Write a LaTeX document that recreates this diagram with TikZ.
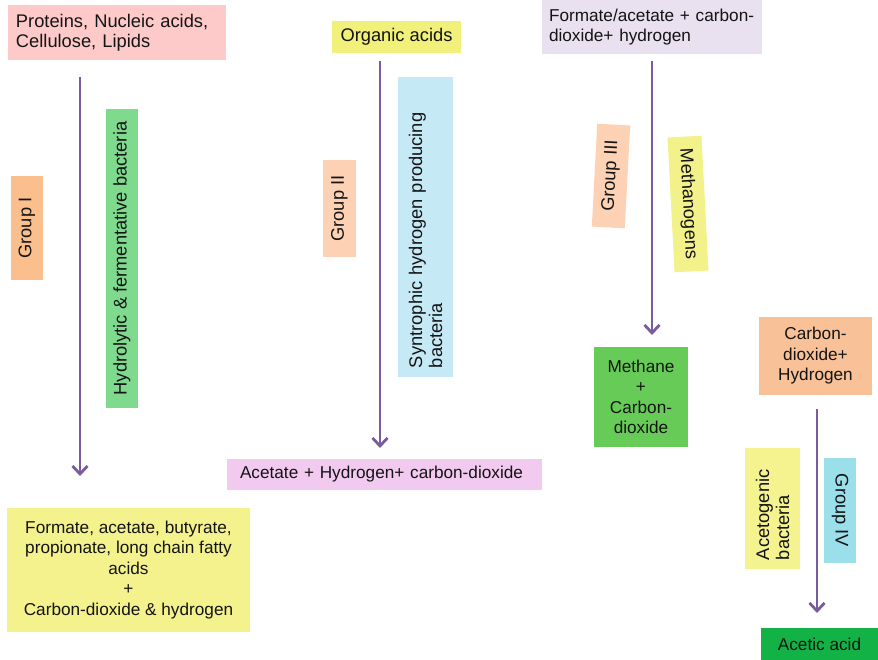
\documentclass[tikz,border=0pt]{standalone}
\usepackage{fontspec}
\setmainfont{Liberation Sans}
\usetikzlibrary{arrows.meta}

\definecolor{cprot}{HTML}{FDC9C9}
\definecolor{chyd}{HTML}{7FDA8E}
\definecolor{cgroup}{HTML}{FBBF8E}
\definecolor{cgroupb}{HTML}{FDD2B4}
\definecolor{cfatty}{HTML}{F4F28C}
\definecolor{corg}{HTML}{F1F07B}
\definecolor{csyn}{HTML}{C6E9F6}
\definecolor{cacet}{HTML}{F2CAF0}
\definecolor{cfa}{HTML}{E9E0F0}
\definecolor{cmeth}{HTML}{F3F28A}
\definecolor{cch4}{HTML}{67CC57}
\definecolor{cco2}{HTML}{F9C197}
\definecolor{cacg}{HTML}{F5F290}
\definecolor{cgiv}{HTML}{9ADFE9}
\definecolor{cacid}{HTML}{12B247}
\definecolor{arrowc}{HTML}{7A5B9E}

\begin{document}
\begin{tikzpicture}[x=1pt,y=-1pt,
  card/.style={inner sep=0pt, outer sep=0pt, text=black!92,
               font=\fontsize{18.3}{20}\selectfont},
  smalltext/.style={font=\fontsize{17.2}{20.5}\selectfont},
  flow/.style={draw=arrowc, line width=2.8pt,
               -{Straight Barb[length=8pt,width=15pt]}}]
\path[use as bounding box] (0,0) rectangle (878,660);

% stage 1: hydrolysis
\node[card, fill=cprot, minimum width=218pt, minimum height=55pt,
      inner xsep=8pt, text width=202pt, align=left] (prot) at (117,32.5)
      {Proteins, Nucleic acids,\\ Cellulose, Lipids};
\node[card, fill=chyd, minimum width=299pt, minimum height=32pt, rotate=90]
      (hyd) at (122,258.5) {Hydrolytic \& fermentative bacteria};
\node[card, fill=cgroup, minimum width=104pt, minimum height=32pt, rotate=90]
      (g1) at (27,228) {Group I};
\node[card, smalltext, fill=cfatty, minimum width=243pt, minimum height=124pt,
      align=center] (fatty) at (128.5,570)
      {Formate, acetate, butyrate,\\ propionate, long chain fatty\\ acids\\ +\\
       Carbon-dioxide \& hydrogen};

% stage 2: acetogenesis from organic acids
\node[card, fill=corg, minimum width=129pt, minimum height=32pt]
      (org) at (396.5,37) {Organic acids};
\node[card, fill=csyn, minimum width=300pt, minimum height=55pt, rotate=90,
      inner xsep=9pt, text width=282pt, align=left] (syn) at (425.5,227)
      {Syntrophic hydrogen producing\\ bacteria};
\node[card, fill=cgroupb, minimum width=97pt, minimum height=33pt, rotate=90]
      (g2) at (339.5,208.5) {Group II};
\node[card, smalltext, fill=cacet, minimum width=315pt, minimum height=31pt,
      inner xsep=13pt, text width=289pt, align=left] (acet) at (384.5,474.5)
      {Acetate + Hydrogen+ carbon-dioxide};

% stage 3: methanogenesis
\node[card, smalltext, fill=cfa, minimum height=54pt, inner xsep=7pt,
      text width=206pt, align=left] (fa) at (652,27)
      {Formate/acetate + carbon-\\ dioxide+ hydrogen};
\node[card, fill=cgroupb, minimum width=103pt, minimum height=33pt, rotate=87]
      (g3) at (611,176) {Group III};
\node[card, fill=cmeth, minimum width=135pt, minimum height=34pt, rotate=-87]
      (meth) at (688,204) {Methanogens};
\node[card, smalltext, fill=cch4, minimum width=94pt, minimum height=100pt,
      align=center] (ch4) at (641,397) {Methane\\ +\\ Carbon-\\ dioxide};

% stage 4: homoacetogenesis
\node[card, smalltext, fill=cco2, minimum width=113pt, minimum height=78pt,
      align=center] (co2) at (815.5,356) {Carbon-\\ dioxide+\\ Hydrogen};
\node[card, fill=cacg, minimum width=121pt, minimum height=55pt, rotate=90,
      inner xsep=9pt, text width=103pt, align=left] (acg) at (772.5,508.5)
      {Acetogenic\\ bacteria};
\node[card, fill=cgiv, minimum width=105pt, minimum height=32pt, rotate=-90]
      (g4) at (840,510.5) {Group IV};
\node[card, smalltext, fill=cacid, minimum width=117pt, minimum height=32pt]
      (acid) at (819.5,644) {Acetic acid};

% conversion arrows
\draw[flow] ([xshift=-37pt,yshift=-17pt]prot.south)
         -- ([xshift=-48.5pt,yshift=32pt]fatty.north);
\draw[flow] ([xshift=-16.5pt,yshift=-8pt]org.south)
         -- ([xshift=-4.5pt,yshift=11pt]acet.north);
\draw[flow] ([yshift=-7pt]fa.south)
         -- ([xshift=11pt,yshift=12pt]ch4.north);
\draw[flow] ([xshift=1.5pt,yshift=-14pt]co2.south)
         -- ([xshift=-2.5pt,yshift=15pt]acid.north);
\end{tikzpicture}
\end{document}
